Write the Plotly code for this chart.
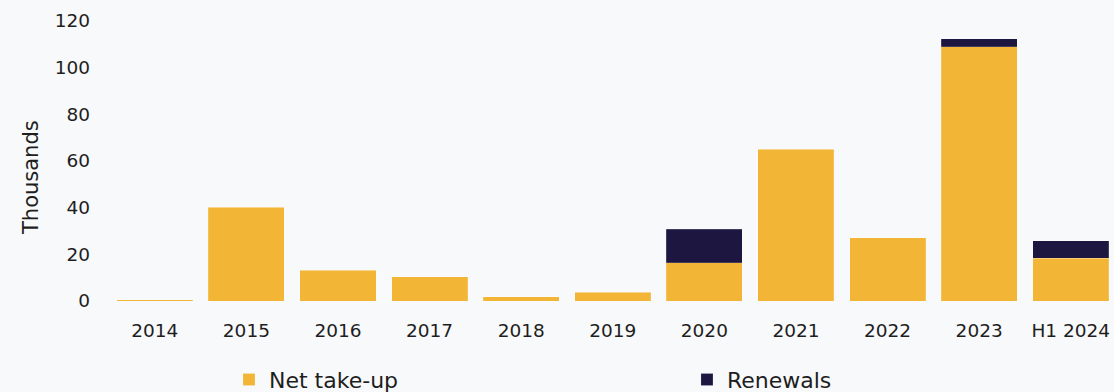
import plotly.graph_objects as go

categories = ["2014", "2015", "2016", "2017", "2018", "2019", "2020", "2021", "2022", "2023", "H1 2024"]
net_take_up = [0.5, 40.2, 13.1, 10.5, 1.9, 3.8, 16.3, 65.1, 27.1, 109.0, 18.4]
renewals = [0, 0, 0, 0, 0, 0, 14.5, 0, 0, 3.4, 7.4]
y_ticks = [0, 20, 40, 60, 80, 100, 120]

BG = "#F8F9FA"
TXT = "#1E1E1E"
FONT = "DejaVu Sans"

fig = go.Figure()
fig.add_trace(go.Bar(
    x=categories, y=net_take_up, name="Net take-up", legend="legend",
    marker=dict(color="#F2B535", line=dict(color="rgba(255,255,255,0.35)", width=0.5)),
))
fig.add_trace(go.Bar(
    x=categories, y=renewals, name="Renewals", legend="legend2",
    marker=dict(color="#1C1640", line=dict(color="rgba(255,255,255,0.35)", width=0.5)),
))

leg_common = dict(
    orientation="h", xanchor="left", y=-0.281, yanchor="middle",
    font=dict(family=FONT, size=22, color=TXT),
    bgcolor="rgba(0,0,0,0)",
)

fig.update_layout(
    width=1114, height=392,
    barmode="stack", bargap=0.17,
    paper_bgcolor=BG, plot_bgcolor=BG,
    margin=dict(l=109, r=0, t=21, b=91, autoexpand=False),
    font=dict(family=FONT, color=TXT),
    showlegend=True,
    legend=dict(x=0.1194, **leg_common),
    legend2=dict(x=0.5751, **leg_common),
    annotations=[dict(
        text="Thousands", textangle=-90, xref="paper", yref="paper",
        x=0, y=0.5, xanchor="center", yanchor="middle", xshift=-78, yshift=-17,
        showarrow=False, font=dict(family=FONT, size=21, color=TXT),
    )],
)
fig.update_xaxes(
    type="category", range=[-0.5, 10.472],
    showgrid=False, zeroline=False, showline=False, ticks="",
    tickfont=dict(family=FONT, size=18.5, color=TXT),
    ticklabelstandoff=16,
)
fig.update_yaxes(
    range=[0, 120], tickvals=y_ticks,
    showgrid=False, zeroline=False, showline=False, ticks="",
    tickfont=dict(family=FONT, size=18.5, color=TXT),
    ticklabelstandoff=18,
)

fig.write_html("out.html")
